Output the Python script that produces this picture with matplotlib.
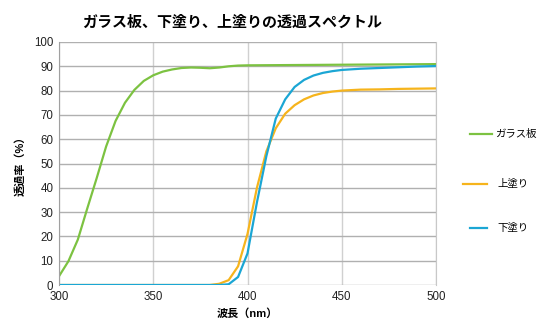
import matplotlib.pyplot as plt
from matplotlib.lines import Line2D

plt.rcParams['font.family'] = ['Liberation Sans', 'Noto Sans CJK JP']

# wavelength grid (nm)
wl_glass = [300, 305, 310, 315, 320, 325, 330, 335, 340, 345, 350, 355, 360, 365,
            370, 375, 380, 385, 390, 395, 400, 420, 440, 460, 480, 500]
glass = [3.6, 9.8, 18.7, 31.5, 44, 57, 67.5, 75, 80.3, 84, 86.3, 87.8, 88.7, 89.3,
         89.5, 89.4, 89.2, 89.5, 90.0, 90.3, 90.4, 90.5, 90.6, 90.7, 90.8, 90.9]

wl_coat = [300, 380, 385, 390, 395, 400, 405, 410, 415, 420, 425, 430, 435, 440,
           445, 450, 460, 470, 480, 490, 500]
top_coat = [0, 0, 0.5, 2, 7.7, 21, 40, 55, 64.5, 70.5, 74, 76.4, 78, 79, 79.6, 80,
            80.4, 80.5, 80.7, 80.8, 80.9]
under_coat = [0, 0, 0, 0.3, 3.3, 13, 34, 53, 68.5, 76.4, 81.5, 84.4, 86.2, 87.3, 88,
              88.5, 89, 89.3, 89.6, 89.9, 90.1]

labels = ['ガラス板', '上塗り', '下塗り']
colors = ['#7cc241', '#f6b41c', '#1ba6d4']

fig = plt.figure(figsize=(5.51, 3.31), dpi=100)
ax = fig.add_axes([59 / 551, 1 - 285 / 331, 377 / 551, 243 / 331])

ax.plot(wl_glass, glass, color=colors[0], lw=1.6)
ax.plot(wl_coat, top_coat, color=colors[1], lw=1.6)
ax.plot(wl_coat, under_coat, color=colors[2], lw=1.6)

ax.set_xlim(300, 500)
ax.set_ylim(0, 100)
ax.set_xticks([300, 350, 400, 450, 500])
ax.set_yticks(range(0, 101, 10))
ax.tick_params(length=0, labelsize=8.3, colors='#222222', pad=4)
ax.xaxis.grid(True, color='#d0d0d0', lw=1)
ax.yaxis.grid(True, color='#b0b0b0', lw=1)
ax.set_axisbelow(True)
for side in ['top', 'bottom']:
    ax.spines[side].set_visible(False)
ax.spines['left'].set_color('#a0a0a0')
ax.spines['right'].set_color('#c8c8c8')

ax.set_xlabel('波長（nm）', fontsize=8, fontweight='bold', labelpad=4)
ax.set_ylabel('透過率（%）', fontsize=8, fontweight='bold', labelpad=6)

fig.text(232 / 551, 1 - 23 / 331, 'ガラス板、下塗り、上塗りの透過スペクトル',
         ha='center', va='center', fontsize=10.8, fontweight='bold')

# legend entries on the right side: (line x range), y, text x
legend_items = [((470, 492), 134, 495), ((463, 487), 184, 497), ((470, 487), 228, 497)]
for i, ((x0, x1), y, tx) in enumerate(legend_items):
    fig.add_artist(Line2D([x0 / 551, x1 / 551], [1 - y / 331, 1 - y / 331],
                          color=colors[i], lw=1.6))
    fig.text(tx / 551, 1 - y / 331, labels[i], ha='left', va='center', fontsize=7.5)

fig.savefig('out.png', dpi=100)
